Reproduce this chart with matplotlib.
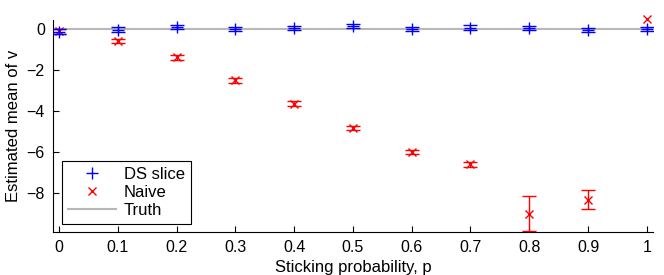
import matplotlib
matplotlib.use("Agg")
import matplotlib.pyplot as plt
from matplotlib.lines import Line2D
import numpy as np

plt.rcParams['font.family'] = ['Liberation Sans', 'DejaVu Sans']

p = [0, 0.1, 0.2, 0.3, 0.4, 0.5, 0.6, 0.7, 0.8, 0.9, 1.0]
ds_mean = [-0.12, -0.02, 0.11, 0.02, 0.08, 0.14, 0.03, 0.08, 0.05, -0.05, 0.03]
ds_err = [0.13, 0.12, 0.1, 0.11, 0.1, 0.1, 0.1, 0.11, 0.1, 0.1, 0.1]
naive_mean = [-0.1, -0.58, -1.36, -2.49, -3.63, -4.83, -5.98, -6.6, -9.0, -8.31, 0.5]
naive_err = [0.12, 0.11, 0.12, 0.13, 0.11, 0.1, 0.1, 0.12, 0.87, 0.46, np.nan]
truth = 0.0

fig = plt.figure(figsize=(6.64, 2.75), dpi=100)
ax = fig.add_axes([0.08, 0.156, 0.903, 0.771])

ax.axhline(truth, color=(0.72, 0.72, 0.72), lw=1.5, zorder=1)
ax.errorbar(p, ds_mean, yerr=ds_err, fmt='+', color='blue', ms=9, mew=1.0,
            elinewidth=1.0, capsize=5, capthick=1.0, zorder=3)
eb = ax.errorbar(p, naive_mean, yerr=naive_err, fmt='x', color='red', ms=6, mew=1.0,
                 elinewidth=1.0, capsize=5, capthick=1.0, zorder=2)
eb[0].set_clip_on(False)

ax.set_xlim(-0.01, 1.01)
ax.set_ylim(-9.9, 0.45)
ax.set_xticks(p)
ax.set_xticklabels(['0', '0.1', '0.2', '0.3', '0.4', '0.5', '0.6', '0.7', '0.8', '0.9', '1'])
ax.set_yticks([0, -2, -4, -6, -8])
ax.tick_params(direction='in', length=4, labelsize=11.5, pad=6)
for s in ['top', 'right']:
    ax.spines[s].set_visible(False)
ax.set_xlabel('Sticking probability, p', fontsize=12, labelpad=3)
ax.set_ylabel('Estimated mean of v', fontsize=12, labelpad=4)

handles = [Line2D([], [], ls='none', marker='+', color='blue', ms=9),
           Line2D([], [], ls='none', marker='x', color='red', ms=6),
           Line2D([], [], color=(0.72, 0.72, 0.72), lw=1.5)]
leg = ax.legend(handles, ['DS slice', 'Naive', 'Truth'], loc='lower left',
                bbox_to_anchor=(0.015, 0.038), borderaxespad=0, fontsize=12,
                fancybox=False, edgecolor='black', framealpha=1, borderpad=0.35,
                labelspacing=0.2, handlelength=2.9, handletextpad=0.45)
leg.get_frame().set_linewidth(0.8)

fig.savefig('out.png', dpi=100)
